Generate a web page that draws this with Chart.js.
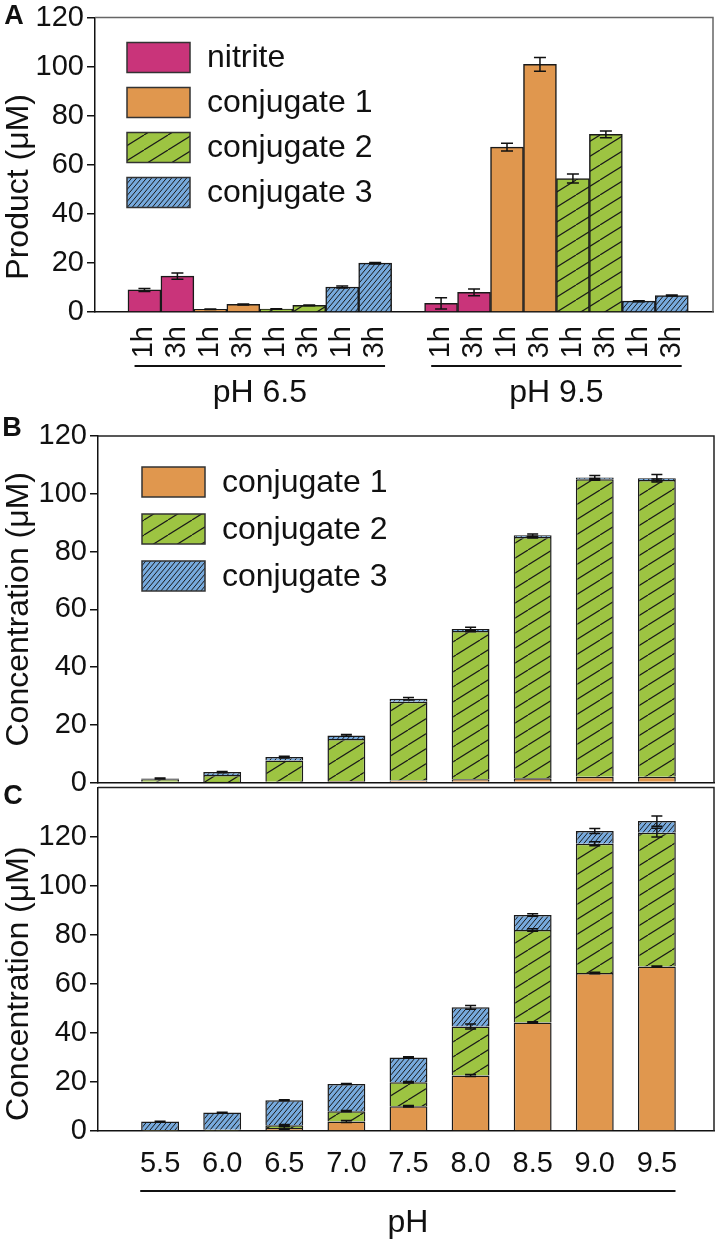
<!DOCTYPE html>
<html>
<head>
<meta charset="utf-8">
<script src="https://cdn.jsdelivr.net/npm/chart.js@4.4.1/dist/chart.umd.min.js"></script>
<style>
  html, body { margin: 0; padding: 0; background: #fff; }
  .panel { position: absolute; left: 0; width: 717px; }
  #wrapA { top: 0; height: 430px; }
  #wrapB { top: 400px; height: 400px; }
  #wrapC { top: 770px; height: 473px; }
</style>
</head>
<body>
<div class="panel" id="wrapA"><canvas id="chartA"></canvas></div>
<div class="panel" id="wrapB"><canvas id="chartB"></canvas></div>
<div class="panel" id="wrapC"><canvas id="chartC"></canvas></div>
<script>
const FONT = '"Liberation Sans", Arial, Helvetica, sans-serif';

// ---- panel A: product after 1h / 3h at two pH values ----
const timeLabels = ['1h', '3h'];
const groupLabelsA = ['pH 6.5', 'pH 9.5'];
// order: [pH6.5 1h, pH6.5 3h, pH9.5 1h, pH9.5 3h]
const nitriteA = [9.0, 14.6, 3.5, 8.0];
const nitriteErrA = [0.6, 1.3, 2.3, 1.4];
const conj1A = [1.1, 3.1, 67.2, 100.9];
const conj1ErrA = [0.1, 0.2, 1.6, 2.8];
const conj2A = [1.2, 2.7, 54.4, 72.4];
const conj2ErrA = [0.1, 0.2, 1.8, 1.4];
const conj3A = [10.2, 19.9, 4.4, 6.7];
const conj3ErrA = [0.4, 0.3, 0.2, 0.2];

// ---- panels B and C: stacked conjugates vs pH ----
const phValues = [5.5, 6.0, 6.5, 7.0, 7.5, 8.0, 8.5, 9.0, 9.5];
const conj1B = [0.3, 0.2, 0.3, 0.5, 0.7, 1.1, 1.5, 2.0, 2.0];
const conj2B = [0.8, 2.4, 7.3, 14.6, 27.3, 51.4, 83.5, 103.0, 102.8];
const conj3B = [0.3, 1.0, 1.2, 1.2, 1.0, 0.7, 0.6, 0.6, 0.6];
const conj1ErrB = [0, 0, 0, 0, 0, 0, 0, 0, 0];
const conj2ErrB = [0, 0, 0, 0, 0, 0.3, 0.3, 0.3, 0.3];
const conj3ErrB = [0.2, 0.2, 0.3, 0.3, 0.4, 0.6, 0.5, 0.7, 1.3];

const conj1C = [0.1, 0.2, 1.2, 3.9, 10.1, 22.6, 44.2, 64.4, 67.0];
const conj2C = [0.2, 0.3, 1.1, 4.2, 9.8, 20.0, 37.7, 52.7, 54.6];
const conj3C = [3.6, 7.0, 10.2, 11.1, 10.1, 7.8, 6.1, 5.2, 4.7];
const conj1ErrC = [0, 0, 0.5, 0.4, 0.3, 0.4, 0.3, 0.3, 0.2];
const conj2ErrC = [0, 0, 0.3, 0.3, 0.3, 1.0, 0.5, 0.8, 1.8];
const conj3ErrC = [0.1, 0.1, 0.2, 0.2, 0.3, 0.8, 0.5, 1.0, 2.1];

const yTicks = [0, 20, 40, 60, 80, 100, 120];

const MAGENTA = '#C9347A';
const ORANGE = '#E0974E';
const GREEN = '#9DC442';
const BLUE = '#77AADD';
const EDGE = '#1a1a1a';

function hatch(color, w, h, lw) {
  const c = document.createElement('canvas');
  c.width = w; c.height = h;
  const g = c.getContext('2d');
  g.fillStyle = color;
  g.fillRect(0, 0, w, h);
  g.strokeStyle = '#1a1a1a';
  g.lineWidth = lw;
  for (const dx of [-w, 0, w]) {
    g.beginPath();
    g.moveTo(dx, h);
    g.lineTo(dx + w, 0);
    g.stroke();
  }
  return g.createPattern(c, 'repeat');
}
const greenHatch = hatch(GREEN, 24, 15, 1.2);
const blueHatch = hatch(BLUE, 5, 6, 1);

// bar positions for panel A: 2 groups of 4 series x 2 times, one empty slot between groups
const posA = (series) => [0, 1].flatMap(g => [0, 1].map(t => g * 9 + series * 2 + t + 1));
const tickPosA = [0, 1, 2, 3].flatMap(s => posA(s)).sort((a, b) => a - b);
const toPoints = (xs, ys) => xs.map((x, i) => ({ x: x, y: ys[i] }));

// ---- plugins ----
const errorBars = {
  id: 'errorBars',
  afterDatasetsDraw(chart, args, opts) {
    const ctx = chart.ctx, y = chart.scales.y;
    ctx.save();
    ctx.strokeStyle = '#111';
    ctx.lineWidth = 1.5;
    chart.data.datasets.forEach((ds, i) => {
      if (!ds.errors) return;
      chart.getDatasetMeta(i).data.forEach((bar, j) => {
        const e = ds.errors[j];
        if (!e) return;
        const v = y.getValueForPixel(bar.y);
        const top = y.getPixelForValue(v + e);
        const bot = y.getPixelForValue(v - e);
        const half = opts.cap / 2;
        ctx.beginPath();
        ctx.moveTo(bar.x, top); ctx.lineTo(bar.x, bot);
        ctx.moveTo(bar.x - half, top); ctx.lineTo(bar.x + half, top);
        ctx.moveTo(bar.x - half, bot); ctx.lineTo(bar.x + half, bot);
        ctx.stroke();
      });
    });
    ctx.restore();
  }
};

const frame = {
  id: 'frame',
  afterDraw(chart, args, opts) {
    const { ctx, chartArea: a } = chart;
    ctx.save();
    ctx.strokeStyle = opts.color;
    ctx.lineWidth = 1.5;
    ctx.beginPath();
    ctx.moveTo(a.left, a.top);
    ctx.lineTo(a.right, a.top);
    ctx.lineTo(a.right, a.bottom);
    ctx.stroke();
    ctx.restore();
  }
};

const insideLegend = {
  id: 'insideLegend',
  afterDraw(chart, args, opts) {
    if (!opts.show) return;
    const { ctx, chartArea: a } = chart;
    ctx.save();
    ctx.font = '32px ' + FONT;
    ctx.textBaseline = 'middle';
    chart.data.datasets.forEach((ds, i) => {
      const bx = a.left + opts.dx, by = a.top + opts.dy + i * opts.step;
      ctx.fillStyle = ds.backgroundColor;
      ctx.fillRect(bx, by, 63, 30);
      ctx.strokeStyle = '#333';
      ctx.lineWidth = 1.5;
      ctx.strokeRect(bx, by, 63, 30);
      ctx.fillStyle = '#111';
      ctx.fillText(ds.label, bx + 80, by + 16);
    });
    ctx.restore();
  }
};

const panelText = {
  id: 'panelText',
  afterDraw(chart, args, opts) {
    const { ctx, chartArea: a } = chart;
    const x = chart.scales.x, y = chart.scales.y;
    ctx.save();
    ctx.fillStyle = '#111';
    ctx.font = 'bold 27px ' + FONT;
    ctx.textAlign = 'center';
    ctx.textBaseline = 'middle';
    ctx.fillText(opts.letter, opts.letterX, opts.letterY);
    ctx.font = '32px ' + FONT;
    ctx.save();
    ctx.translate(19, y.getPixelForValue(opts.titleValue));
    ctx.rotate(-Math.PI / 2);
    ctx.fillText(opts.yTitle, 0, 0);
    ctx.restore();
    ctx.strokeStyle = '#111';
    ctx.lineWidth = 2;
    ctx.textBaseline = 'alphabetic';
    (opts.groups || []).forEach(gr => {
      const x0 = x.getPixelForValue(gr.from), x1 = x.getPixelForValue(gr.to);
      ctx.beginPath();
      ctx.moveTo(x0, a.bottom + opts.lineGap);
      ctx.lineTo(x1, a.bottom + opts.lineGap);
      ctx.stroke();
      ctx.fillText(gr.label, (x0 + x1) / 2, a.bottom + opts.textGap);
    });
    ctx.restore();
  }
};

Chart.register(errorBars, frame, insideLegend, panelText);

const tickFont = { family: FONT, size: 29, lineHeight: 1 };
const yAxis = (width, max) => ({
  stacked: true,
  min: 0,
  max: max,
  afterBuildTicks: s => { s.ticks = yTicks.map(v => ({ value: v })); },
  afterFit: s => { s.width = width; },
  grid: { drawOnChartArea: false, drawTicks: true, tickLength: 8, color: '#111', lineWidth: 1.5 },
  border: { display: true, color: '#111', width: 1.5 },
  ticks: { font: tickFont, color: '#111', padding: 3 }
});

// ---- panel A ----
new Chart(document.getElementById('chartA'), {
  type: 'bar',
  data: {
    datasets: [
      { label: 'nitrite', data: toPoints(posA(0), nitriteA), errors: nitriteErrA, backgroundColor: MAGENTA },
      { label: 'conjugate 1', data: toPoints(posA(1), conj1A), errors: conj1ErrA, backgroundColor: ORANGE },
      { label: 'conjugate 2', data: toPoints(posA(2), conj2A), errors: conj2ErrA, backgroundColor: greenHatch },
      { label: 'conjugate 3', data: toPoints(posA(3), conj3A), errors: conj3ErrA, backgroundColor: blueHatch }
    ]
  },
  options: {
    responsive: true,
    maintainAspectRatio: false,
    animation: false,
    datasets: { bar: { barPercentage: 1, categoryPercentage: 1, borderWidth: 1.5, borderColor: EDGE } },
    layout: { padding: { top: 15, right: 4, left: 0, bottom: 0 } },
    scales: {
      x: {
        type: 'linear',
        offset: false,
        stacked: true,
        min: -0.5,
        max: 18.25,
        afterBuildTicks: s => { s.ticks = tickPosA.map(v => ({ value: v })); },
        afterFit: s => { s.height = 118; },
        grid: { display: false },
        border: { display: true, color: '#111', width: 1.5 },
        ticks: {
          font: tickFont, color: '#111', autoSkip: false, minRotation: 90, maxRotation: 90, padding: 6,
          callback: (v, i) => timeLabels[i % 2]
        }
      },
      y: yAxis(95, 120)
    },
    plugins: {
      legend: { display: false },
      tooltip: { enabled: false },
      errorBars: { cap: 12 },
      frame: { color: '#666' },
      insideLegend: { show: true, dx: 32, dy: 25, step: 45 },
      panelText: {
        letter: 'A', letterX: 14, letterY: 17,
        yTitle: 'Product (\u03bcM)', titleValue: 51,
        lineGap: 54, textGap: 90,
        groups: groupLabelsA.map((label, g) => ({ label: label, from: g * 9 + 0.7, to: g * 9 + 8.3 }))
      }
    }
  }
});

// ---- panels B and C ----
function phChart(id, c1, c2, c3, e1, e2, e3, opt) {
  return new Chart(document.getElementById(id), {
    type: 'bar',
    data: {
      datasets: [
        { label: 'conjugate 1', data: toPoints(phValues, c1), errors: e1, backgroundColor: ORANGE },
        { label: 'conjugate 2', data: toPoints(phValues, c2), errors: e2, backgroundColor: greenHatch },
        { label: 'conjugate 3', data: toPoints(phValues, c3), errors: e3, backgroundColor: blueHatch }
      ]
    },
    options: {
      responsive: true,
      maintainAspectRatio: false,
      animation: false,
      datasets: { bar: { barPercentage: 0.61, categoryPercentage: 1, borderWidth: 1.5, borderColor: EDGE } },
      layout: { padding: { top: opt.padTop, right: 3, left: 0, bottom: 0 } },
      scales: {
        x: {
          type: 'linear',
          offset: false,
          stacked: true,
          min: 5.0,
          max: 9.96,
          afterBuildTicks: s => { s.ticks = phValues.map(v => ({ value: v })); },
          afterFit: s => { s.height = opt.xHeight; },
          grid: { display: false },
          border: { display: true, color: '#111', width: 1.5 },
          ticks: {
            display: opt.showX, font: tickFont, color: '#111', autoSkip: false, maxRotation: 0, padding: 10,
            callback: v => v.toFixed(1)
          }
        },
        y: yAxis(98, opt.yMax)
      },
      plugins: {
        legend: { display: false },
        tooltip: { enabled: false },
        errorBars: { cap: 11 },
        frame: { color: '#222' },
        insideLegend: { show: opt.legend, dx: 44, dy: 31, step: 47 },
        panelText: opt.text
      }
    }
  });
}

phChart('chartB', conj1B, conj2B, conj3B, conj1ErrB, conj2ErrB, conj3ErrB, {
  padTop: 36, xHeight: 17, showX: false, yMax: 120, legend: true,
  text: { letter: 'B', letterX: 12, letterY: 29, yTitle: 'Concentration (\u03bcM)', titleValue: 60, groups: [] }
});

phChart('chartC', conj1C, conj2C, conj3C, conj1ErrC, conj2ErrC, conj3ErrC, {
  padTop: 13, xHeight: 112, showX: true, yMax: 140, legend: false,
  text: {
    letter: 'C', letterX: 13, letterY: 27, yTitle: 'Concentration (\u03bcM)', titleValue: 60,
    lineGap: 60, textGap: 101,
    groups: [{ label: 'pH', from: phValues[0] - 0.16, to: phValues[phValues.length - 1] + 0.15 }]
  }
});
</script>
</body>
</html>
